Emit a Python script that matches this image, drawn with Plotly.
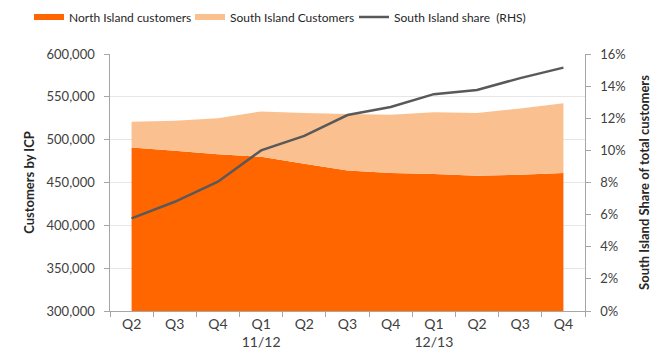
import plotly.graph_objects as go

quarters = ["Q2", "Q3", "Q4", "Q1<br>11/12", "Q2", "Q3", "Q4", "Q1<br>12/13", "Q2", "Q3", "Q4"]
north = [491000, 487000, 483000, 480000, 472000, 464000, 461000, 460000, 458000, 459000, 461000]
total = [521000, 522000, 525000, 533000, 531000, 530000, 529000, 532000, 531000, 536500, 542500]
share = [0.0577, 0.068, 0.0805, 0.100, 0.109, 0.122, 0.127, 0.135, 0.1376, 0.145, 0.1515]

south = [t - n for t, n in zip(total, north)]
xidx = list(range(len(quarters)))

FONT = "Lato"
TXT = "#404040"
AX = "#A6A6A6"
W, H = 657, 358

fig = go.Figure()
fig.add_trace(go.Scatter(x=xidx, y=north, name="North Island customers", stackgroup="one",
                         mode="none", fillcolor="#FF6600", legend="legend"))
fig.add_trace(go.Scatter(x=xidx, y=south, name="South Island Customers", stackgroup="one",
                         mode="none", fillcolor="#FAC090", legend="legend2"))
fig.add_trace(go.Scatter(x=xidx, y=share, name="South Island share  (RHS)", yaxis="y2",
                         mode="lines", line=dict(color="#595959", width=2.5), legend="legend3"))


def leg(px):
    return dict(orientation="h", xref="container", yref="container",
                x=px / W, xanchor="left", y=1 - 17 / H, yanchor="middle",
                font=dict(size=12, color="#262626"), itemwidth=30,
                bgcolor="rgba(0,0,0,0)")


fig.update_layout(
    width=W, height=H,
    margin=dict(l=110, r=72, t=54, b=47),
    plot_bgcolor="white", paper_bgcolor="white",
    font=dict(family=FONT, size=13, color=TXT),
    showlegend=True,
    legend=leg(29), legend2=leg(190), legend3=leg(354),
    xaxis=dict(range=[-0.5, 10.5], tickmode="array", tickvals=xidx, ticktext=quarters,
               ticks="", showgrid=False, showline=True, linecolor=AX, linewidth=1,
               zeroline=False, tickfont=dict(size=14, color=TXT), automargin=False,
               minor=dict(tick0=-0.5, dtick=1, ticks="outside", ticklen=5, tickcolor=AX,
                          showgrid=False)),
    yaxis=dict(range=[300000, 600000], dtick=50000, tickformat=",d", ticksuffix="  ",
               showgrid=True, automargin=False,
               gridcolor="#E6E6E6", showline=True, linecolor=AX, ticks="outside",
               ticklen=5, tickcolor=AX, zeroline=False,
               title=dict(text="<b>Customers by ICP</b>", font=dict(size=13, color="#262626"),
                          standoff=8),
               tickfont=dict(size=13, color=TXT)),
    yaxis2=dict(range=[0, 0.16], dtick=0.02, tickformat=".0%", tickprefix="  ",
                overlaying="y", side="right", automargin=False,
                showgrid=False, showline=True, linecolor=AX, ticks="outside", ticklen=5,
                tickcolor=AX, zeroline=False,
                title=dict(text="<b>South Island Share of total customers</b>",
                           font=dict(size=13, color="#262626"), standoff=15),
                tickfont=dict(size=13, color=TXT)),
)

fig.write_html("out.html")
